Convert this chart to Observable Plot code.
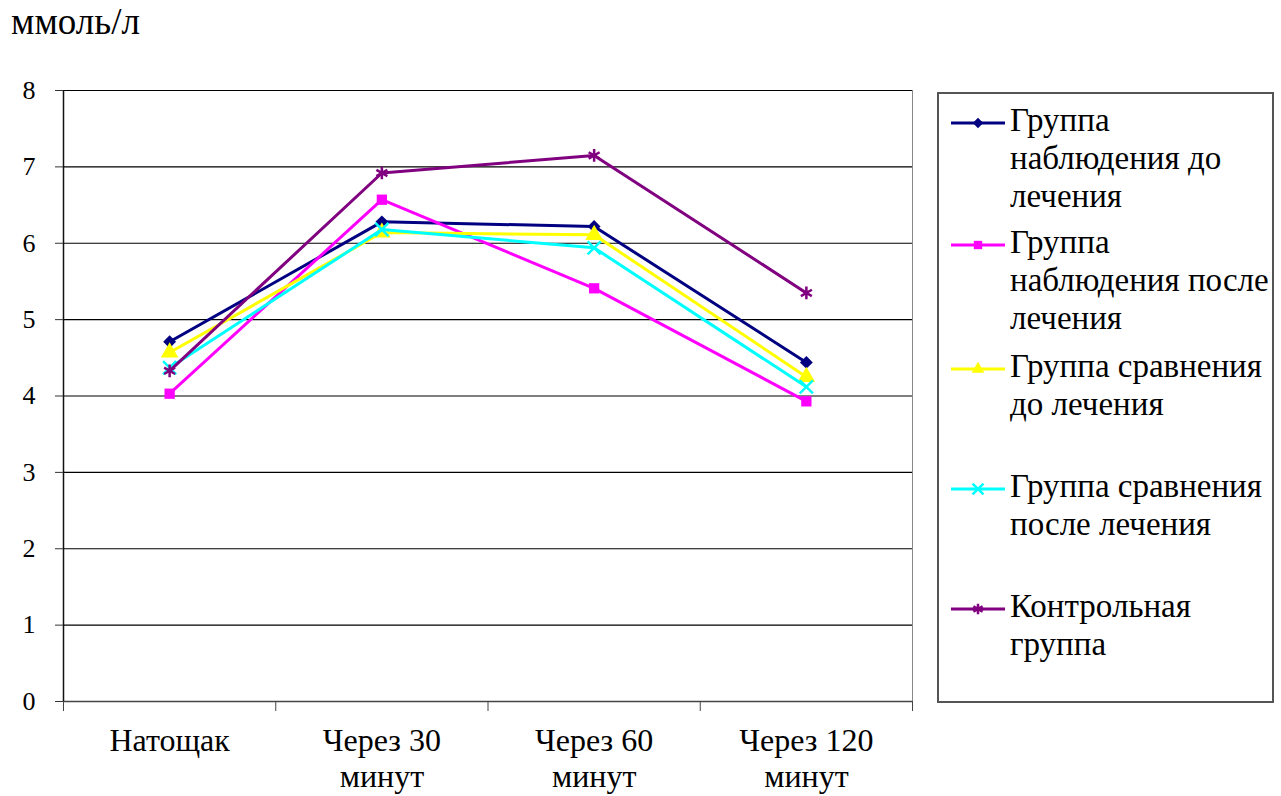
<!DOCTYPE html>
<html>
<head>
<meta charset="utf-8">
<script src="https://cdn.jsdelivr.net/npm/d3@7"></script>
<script src="https://cdn.jsdelivr.net/npm/@observablehq/plot@0.6"></script>
<style>
  body { margin: 0; background: #fff; }
  #wrap { position: relative; width: 1281px; height: 796px; font-family: "Liberation Serif", "Times New Roman", serif; }
  #title { position: absolute; left: 11px; top: 3px; font-size: 37px; line-height: 38px; color: #000; }
  #chart { position: absolute; left: 0; top: 0; }
  #legend { position: absolute; left: 937px; top: 92px; width: 333px; height: 607px; border: 2px solid #555; }
  .item { position: absolute; left: 11px; display: flex; align-items: flex-start; white-space: nowrap; }
  .item svg { flex: none; margin-top: 9px; }
  .item .lbl { font-size: 33px; line-height: 38px; margin-left: 4px; color: #000; }
</style>
</head>
<body>
<div id="wrap">
  <div id="chart"></div>
  <div id="title">ммоль/л</div>
  <div id="legend"></div>
</div>
<script>
const categories = ["Натощак", "Через 30\nминут", "Через 60\nминут", "Через 120\nминут"];
const seriesNames = [
  "Группа наблюдения до лечения",
  "Группа наблюдения после лечения",
  "Группа сравнения до лечения",
  "Группа сравнения после лечения",
  "Контрольная группа"
];
const legendLines = [
  ["Группа", "наблюдения до", "лечения"],
  ["Группа", "наблюдения после", "лечения"],
  ["Группа сравнения", "до лечения"],
  ["Группа сравнения", "после лечения"],
  ["Контрольная", "группа"]
];
const obsBefore = [4.71, 6.28, 6.22, 4.44];
const obsAfter = [4.03, 6.57, 5.41, 3.93];
const cmpBefore = [4.57, 6.14, 6.11, 4.25];
const cmpAfter = [4.37, 6.18, 5.94, 4.12];
const control = [4.33, 6.92, 7.15, 5.35];
const seriesValues = [obsBefore, obsAfter, cmpBefore, cmpAfter, control];
const colors = ["#000080", "#FF00FF", "#FFFF00", "#00FFFF", "#800080"];
const symbols = ["diamond2", "square", "triangle", "times", "asterisk"];
const filled = [true, true, true, false, false];
const yTicks = [0, 1, 2, 3, 4, 5, 6, 7, 8];
const legendTops = [101, 223, 347, 467, 587];
const FONT = "'Liberation Serif', 'Times New Roman', serif";

const rows = [];
seriesValues.forEach((vals, s) => vals.forEach((v, i) => rows.push({series: seriesNames[s], idx: i, x: i + 0.5, y: v})));
const catRows = categories.map((c, i) => ({label: c, x: i + 0.5}));

const marks = [
  Plot.frame({stroke: "#888"}),
  Plot.ruleY(yTicks.filter(d => d > 0), {stroke: "#000", strokeWidth: 1.2}),
  Plot.ruleY([0], {stroke: "#444", strokeWidth: 1.5}),
  Plot.ruleX([0], {stroke: "#111", strokeWidth: 1.5}),
  Plot.axisY({ticks: yTicks, label: null, tickSize: 8, tickPadding: 20, stroke: "#333", fontSize: 26, tickFormat: d => String(d), color: "#000"}),
  Plot.axisX({ticks: [0, 1, 2, 3, 4], label: null, tickSize: 10, tickFormat: () => "", stroke: "#444"}),
  Plot.text(catRows, {x: "x", text: "label", frameAnchor: "bottom", lineAnchor: "top", dy: 24, lineHeight: 1.12, fontSize: 32, fill: "#000"})
];
seriesNames.forEach((name, s) => {
  const data = rows.filter(d => d.series === name);
  marks.push(Plot.line(data, {x: "x", y: "y", stroke: colors[s], strokeWidth: 3}));
  if (filled[s]) {
    marks.push(Plot.dot(data, {x: "x", y: "y", symbol: () => symbols[s], fill: colors[s], stroke: "none", r: symbols[s] === "triangle" ? 6.5 : 5.8}));
  } else {
    marks.push(Plot.dot(data, {x: "x", y: "y", symbol: () => symbols[s], stroke: colors[s], strokeWidth: 2.5, r: 6}));
  }
});

const chart = Plot.plot({
  width: 1281,
  height: 796,
  marginLeft: 63,
  marginRight: 369,
  marginTop: 90,
  marginBottom: 95,
  x: {domain: [0, 4], axis: null},
  y: {domain: [0, 8], axis: null},
  symbol: {type: "identity"},
  style: {fontFamily: FONT, fontSize: "26px", background: "transparent", color: "#000", overflow: "visible"},
  marks
});
document.getElementById("chart").appendChild(chart);

// legend
const legend = d3.select("#legend");
const symMap = {diamond2: d3.symbolDiamond2, square: d3.symbolSquare, triangle: d3.symbolTriangle, times: d3.symbolTimes, asterisk: d3.symbolAsterisk};
seriesNames.forEach((name, s) => {
  const item = legend.append("div").attr("class", "item").style("top", (legendTops[s] - 94) + "px");
  const svg = item.append("svg").attr("width", 56).attr("height", 26);
  svg.append("line").attr("x1", 1).attr("x2", 55).attr("y1", 13).attr("y2", 13).attr("stroke", colors[s]).attr("stroke-width", 3);
  const path = d3.symbol(symMap[symbols[s]], filled[s] ? 70 : 80)();
  const p = svg.append("path").attr("d", path).attr("transform", "translate(28,13)");
  if (filled[s]) p.attr("fill", colors[s]);
  else p.attr("fill", "none").attr("stroke", colors[s]).attr("stroke-width", 2.5);
  item.append("div").attr("class", "lbl").html(legendLines[s].join("<br>"));
});
</script>
</body>
</html>
